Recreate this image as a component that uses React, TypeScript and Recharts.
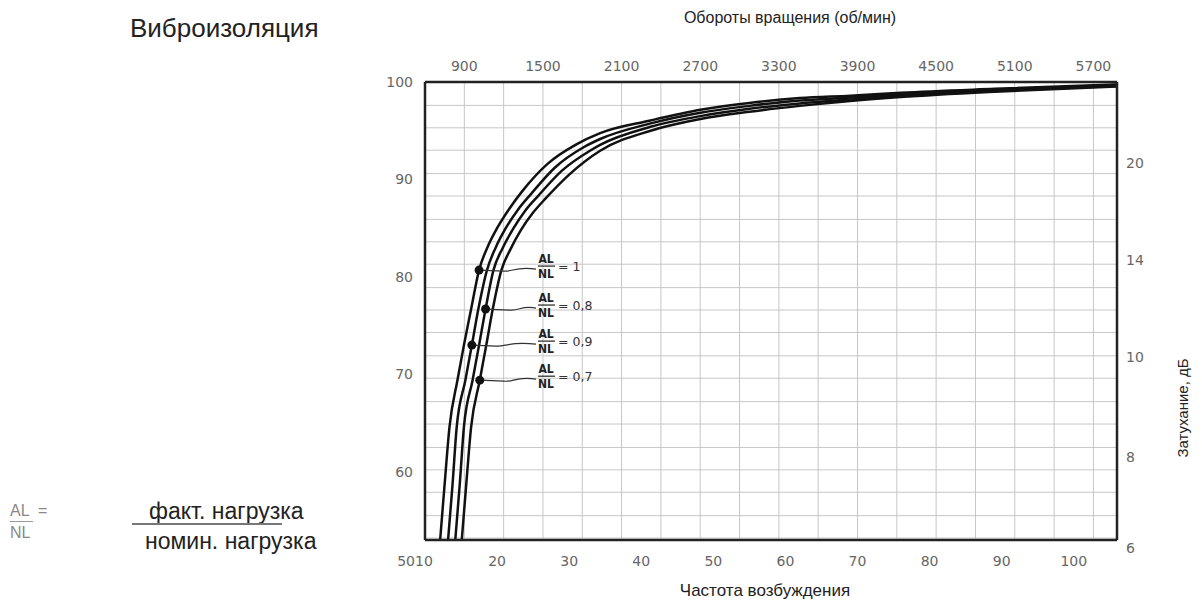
import React from 'react';
import { LineChart, Line, XAxis, YAxis, CartesianGrid } from 'recharts';

// excitation frequency (bottom axis)
const freqTicks = [10, 20, 30, 40, 50, 60, 70, 80, 90, 100];
const freqTickLabels = ['5010', '20', '30', '40', '50', '60', '70', '80', '90', '100'];

// rotation speed (top axis), grid every 300, label every 600
const rpmGrid = [600, 900, 1200, 1500, 1800, 2100, 2400, 2700, 3000, 3300, 3600, 3900, 4200, 4500, 4800, 5100, 5400, 5700];
const rpmTicks = [900, 1500, 2100, 2700, 3300, 3900, 4500, 5100, 5700];
const rpmRows = rpmGrid.map((rpm) => ({ rpm }));

// isolation % (left axis)
const isoTicks = [100, 90, 80, 70, 60];
const isoGrid = [97.6, 95.3, 93.0, 90.6, 88.3, 85.9, 83.6, 81.3, 78.9, 76.6, 74.3, 71.9, 69.6, 67.2, 64.9, 62.5, 60.2, 57.9, 55.5, 53.2];

// attenuation dB (right axis), placed against the isolation scale
const dbTickPositions = [91.7, 81.7, 71.8, 61.5, 53];
const dbTickLabels = ['20', '14', '10', '8', '6'];

// curves, AL/NL ratio
const curve10 = [
  { hz: 12.1, iso: 53 }, { hz: 12.7, iso: 58.5 }, { hz: 13.4, iso: 64.6 }, { hz: 14.5, iso: 69.4 },
  { hz: 15.4, iso: 73 }, { hz: 16.4, iso: 76.7 }, { hz: 17.5, iso: 80.7 }, { hz: 18.7, iso: 83.1 },
  { hz: 20, iso: 85.0 }, { hz: 21.7, iso: 87.0 }, { hz: 23.5, iso: 88.8 }, { hz: 27, iso: 91.6 },
  { hz: 31, iso: 93.6 }, { hz: 34.3, iso: 94.75 }, { hz: 41.3, iso: 96.05 }, { hz: 48.2, iso: 97.15 },
  { hz: 55, iso: 97.85 }, { hz: 62, iso: 98.35 }, { hz: 69, iso: 98.6 }, { hz: 76, iso: 98.9 },
  { hz: 89, iso: 99.3 }, { hz: 106, iso: 99.75 },
];
const curve09 = [
  { hz: 13.2, iso: 53 }, { hz: 13.8, iso: 58.5 }, { hz: 14.4, iso: 64.6 }, { hz: 15.6, iso: 69.4 },
  { hz: 16.5, iso: 73 }, { hz: 17.4, iso: 76.7 }, { hz: 18.6, iso: 80.7 }, { hz: 19.8, iso: 83.0 },
  { hz: 21.2, iso: 85.0 }, { hz: 22.9, iso: 86.9 }, { hz: 24.7, iso: 88.5 }, { hz: 28, iso: 91.2 },
  { hz: 32, iso: 93.3 }, { hz: 34.3, iso: 94.15 }, { hz: 41.3, iso: 95.75 }, { hz: 48.2, iso: 96.85 },
  { hz: 55, iso: 97.55 }, { hz: 62, iso: 98.1 }, { hz: 69, iso: 98.4 }, { hz: 76, iso: 98.75 },
  { hz: 89, iso: 99.2 }, { hz: 106, iso: 99.7 },
];
const curve08 = [
  { hz: 14.2, iso: 53 }, { hz: 14.8, iso: 58.5 }, { hz: 15.4, iso: 64.6 }, { hz: 16.6, iso: 69.4 },
  { hz: 17.5, iso: 73 }, { hz: 18.4, iso: 76.7 }, { hz: 19.5, iso: 80.7 }, { hz: 20.8, iso: 83.0 },
  { hz: 22.2, iso: 84.9 }, { hz: 23.9, iso: 86.8 }, { hz: 25.8, iso: 88.4 }, { hz: 29, iso: 90.9 },
  { hz: 33, iso: 93.0 }, { hz: 34.3, iso: 93.55 }, { hz: 41.3, iso: 95.4 }, { hz: 48.2, iso: 96.5 },
  { hz: 55, iso: 97.25 }, { hz: 62, iso: 97.8 }, { hz: 69, iso: 98.2 }, { hz: 76, iso: 98.6 },
  { hz: 89, iso: 99.1 }, { hz: 106, iso: 99.6 },
];
const curve07 = [
  { hz: 15.1, iso: 53 }, { hz: 15.7, iso: 58.5 }, { hz: 16.4, iso: 64.6 }, { hz: 17.6, iso: 69.4 },
  { hz: 18.5, iso: 73 }, { hz: 19.4, iso: 76.7 }, { hz: 20.6, iso: 80.7 }, { hz: 21.9, iso: 82.9 },
  { hz: 23.3, iso: 84.8 }, { hz: 25, iso: 86.6 }, { hz: 26.8, iso: 88.1 }, { hz: 30, iso: 90.5 },
  { hz: 34.3, iso: 92.95 }, { hz: 41.3, iso: 95.0 }, { hz: 48.2, iso: 96.2 }, { hz: 55, iso: 96.95 },
  { hz: 62, iso: 97.55 }, { hz: 69, iso: 98.05 }, { hz: 76, iso: 98.45 }, { hz: 89, iso: 99.0 },
  { hz: 106, iso: 99.55 },
];

const series = [
  { key: 'r10', data: curve10, ratio: '1', markIndex: 6 },
  { key: 'r09', data: curve09, ratio: '0,9', markIndex: 4 },
  { key: 'r08', data: curve08, ratio: '0,8', markIndex: 5 },
  { key: 'r07', data: curve07, ratio: '0,7', markIndex: 3 },
];

const HZ_DOMAIN = [10, 106];
const RPM_DOMAIN = [600, 5880];
const ISO_DOMAIN = [53, 100];

const TICK_FONT = 'DejaVu Sans, sans-serif';
const TICK_COLOR = '#666';
const FRAME = '#222';
const LABEL_X = 538;
const ARIAL = '"Liberation Sans", Arial, sans-serif';

function FreqTick(props: any) {
  const { x, y, payload } = props;
  const i = freqTicks.indexOf(payload.value);
  const dx = i === 0 ? -10 : 0;
  return (
    <text x={x + dx} y={y} dy={12} textAnchor="middle" fill={TICK_COLOR} fontSize={14} fontFamily={TICK_FONT}>
      {freqTickLabels[i]}
    </text>
  );
}

function DbTick(props: any) {
  const { x, y, payload } = props;
  const i = dbTickPositions.indexOf(payload.value);
  const dy = i === dbTickLabels.length - 1 ? 8 : 0;
  return (
    <text x={x} y={y + dy} dy={5} textAnchor="start" fill={TICK_COLOR} fontSize={14} fontFamily={TICK_FONT}>
      {dbTickLabels[i]}
    </text>
  );
}

const makeDot = (s: any) => (props: any) => {
  const { cx, cy, index } = props;
  if (index !== s.markIndex) return <g key={`${s.key}-${index}`} />;
  const ly = cy - 4;
  return (
    <g key={`${s.key}-${index}`}>
      <path
        d={`M${cx},${cy} L${cx + 24},${cy + 1} C${cx + 34},${cy + 2} ${cx + 36},${cy - 4} ${LABEL_X - 2},${cy - 1}`}
        stroke="#333" strokeWidth={1.2} fill="none"
      />
      <circle cx={cx} cy={cy} r={4.5} fill="#111" />
      <text x={LABEL_X + 8} y={ly - 3} textAnchor="middle" fontSize={12} fontWeight="bold" fontFamily="DejaVu Sans Condensed, DejaVu Sans" fill="#222">AL</text>
      <line x1={LABEL_X} x2={LABEL_X + 17} y1={ly} y2={ly} stroke="#222" strokeWidth={1.2} />
      <text x={LABEL_X + 8} y={ly + 12} textAnchor="middle" fontSize={12} fontWeight="bold" fontFamily="DejaVu Sans Condensed, DejaVu Sans" fill="#222">NL</text>
      <text x={LABEL_X + 20} y={ly + 5} fontSize={12.5} fontFamily={TICK_FONT} fill="#333">= {s.ratio}</text>
    </g>
  );
};

const vGrid = ({ offset }: any) => {
  const left = offset?.left ?? 425;
  const w = offset?.width ?? 692;
  return rpmGrid.map((r) => left + ((r - RPM_DOMAIN[0]) / (RPM_DOMAIN[1] - RPM_DOMAIN[0])) * w);
};
const hGrid = ({ offset }: any) => {
  const top = offset?.top ?? 82;
  const h = offset?.height ?? 458;
  return isoGrid.map((v) => top + ((ISO_DOMAIN[1] - v) / (ISO_DOMAIN[1] - ISO_DOMAIN[0])) * h);
};

const textStyle = { position: 'absolute' as const, color: '#222', lineHeight: 1, whiteSpace: 'nowrap' as const };

export default function App() {
  return (
    <div style={{ position: 'absolute', left: 0, top: 0, width: 1202, height: 603, background: '#fff', fontFamily: ARIAL }}>
      <div style={{ ...textStyle, left: 130, top: 15, fontSize: 26 }}>Виброизоляция</div>
      <div style={{ ...textStyle, left: 790, top: 10, transform: 'translateX(-50%)', fontSize: 16 }}>
        Обороты вращения (об/мин)
      </div>
      <div style={{ ...textStyle, left: 765, top: 582, transform: 'translateX(-50%)', fontSize: 17 }}>
        Частота возбуждения
      </div>
      <div style={{ ...textStyle, left: 1182, top: 408, transform: 'translate(-50%, -50%) rotate(-90deg)', fontSize: 15 }}>
        Затухание, дБ
      </div>

      <div style={{ ...textStyle, left: 10, top: 503, fontSize: 16, color: '#888' }}>AL</div>
      <div style={{ position: 'absolute', left: 10, top: 521, width: 23, borderTop: '1.5px solid #999' }} />
      <div style={{ ...textStyle, left: 10, top: 525, fontSize: 16, color: '#888' }}>NL</div>
      <div style={{ ...textStyle, left: 38, top: 503, fontSize: 16, color: '#888' }}>=</div>
      <div style={{ ...textStyle, left: 149, top: 500, fontSize: 23 }}>факт. нагрузка</div>
      <div style={{ position: 'absolute', left: 132, top: 523, width: 150, borderTop: '2px solid #777' }} />
      <div style={{ ...textStyle, left: 145, top: 530, fontSize: 23 }}>номин. нагрузка</div>

      <LineChart width={1202} height={603} data={rpmRows} margin={{ top: 52, right: 35, bottom: 33, left: 365 }}>
        <CartesianGrid
          xAxisId="hz" yAxisId="left" stroke="#c6c6c6" strokeWidth={1}
          verticalCoordinatesGenerator={vGrid} horizontalCoordinatesGenerator={hGrid}
        />
        <XAxis
          xAxisId="hz" dataKey="hz" type="number" domain={HZ_DOMAIN} ticks={freqTicks} interval={0}
          allowDataOverflow height={30} tick={<FreqTick />} tickLine={false} tickSize={0} tickMargin={14}
          axisLine={{ stroke: FRAME, strokeWidth: 2.5 }}
        />
        <XAxis
          xAxisId="top" dataKey="rpm" orientation="top" type="number" domain={RPM_DOMAIN} ticks={rpmTicks} interval={0}
          allowDataOverflow height={30} tickLine={false} tickSize={0} tickMargin={11}
          tick={{ fill: TICK_COLOR, fontSize: 14, fontFamily: TICK_FONT }}
          axisLine={{ stroke: FRAME, strokeWidth: 2.5 }}
        />
        <YAxis
          yAxisId="left" type="number" domain={ISO_DOMAIN} ticks={isoTicks} interval={0} allowDataOverflow width={60}
          tickLine={false} tickSize={0} tickMargin={12}
          tick={{ fill: TICK_COLOR, fontSize: 14, fontFamily: TICK_FONT }}
          axisLine={{ stroke: FRAME, strokeWidth: 2.5 }}
        />
        <YAxis
          yAxisId="right" orientation="right" type="number" domain={ISO_DOMAIN} ticks={dbTickPositions} interval={0}
          allowDataOverflow width={50} tickLine={false} tickSize={0} tickMargin={9} tick={<DbTick />}
          axisLine={{ stroke: FRAME, strokeWidth: 2.5 }}
        />
        {series.map((s) => (
          <Line
            key={s.key}
            xAxisId="hz"
            yAxisId="left"
            data={s.data}
            dataKey="iso"
            type="monotone"
            stroke="#111"
            strokeWidth={2.5}
            dot={makeDot(s)}
            activeDot={false}
            isAnimationActive={false}
          />
        ))}
      </LineChart>
    </div>
  );
}
